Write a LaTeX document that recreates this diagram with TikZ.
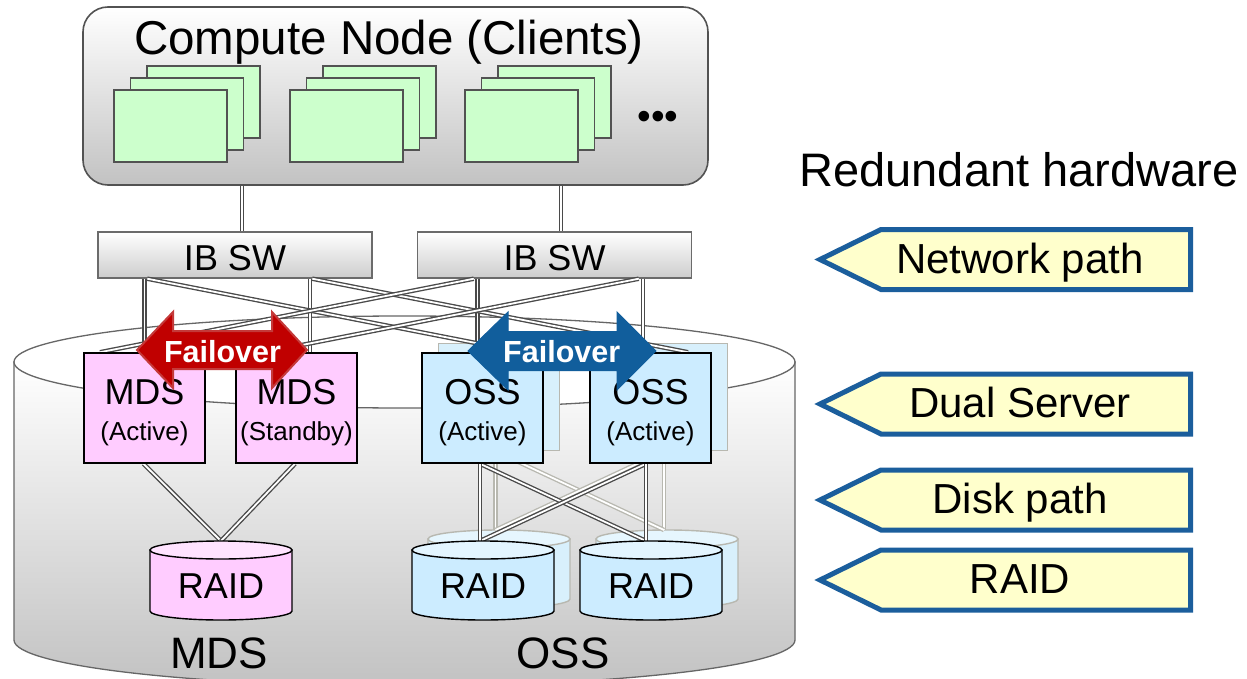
\documentclass[tikz,border=0pt]{standalone}
\usepackage{fontspec}
\setmainfont{Liberation Sans}
\usetikzlibrary{calc}
\newcommand{\fsz}[1]{\fontsize{#1pt}{#1pt}\selectfont}
\newcommand{\cylshape}[7]{%
  \path[#6] (#1-#4,#2) -- (#1-#4,#3) arc[start angle=180,end angle=0,x radius=#4,y radius=#5] -- (#1+#4,#2) -- cycle;
  \path[#7] (#1,#2) ellipse[x radius=#4,y radius=#5];
}
\definecolor{greenfill}{HTML}{CCFFCC}
\definecolor{mdsfill}{HTML}{FFCCFF}
\definecolor{mdstop}{HTML}{FFE3FF}
\definecolor{ossfill}{HTML}{CCECFF}
\definecolor{osstop}{HTML}{E3F5FF}
\definecolor{ghostfill}{HTML}{D8F0FC}
\definecolor{ghosttop}{HTML}{E6F6FE}
\definecolor{ghostline}{HTML}{B8B8B0}
\definecolor{linegray}{HTML}{4A4A4A}
\definecolor{redfill}{HTML}{C00000}
\definecolor{rededge}{HTML}{C43A3A}
\definecolor{bluefill}{HTML}{115E9C}
\definecolor{tagedge}{HTML}{1B5E9C}
\definecolor{tagfill}{HTML}{FFFFCC}
\definecolor{shadegray}{HTML}{C2C2C2}
\definecolor{swgray}{HTML}{CDCDCD}
\definecolor{cylline}{HTML}{666666}
\begin{document}
\begin{tikzpicture}[x=1pt,y=-1pt,
  greenbox/.style={draw=black!68, line width=1.1pt, fill=greenfill, minimum width=113pt, minimum height=72pt, inner sep=0pt},
  dbl/.style={draw=linegray, line width=1.35pt, double=white, double distance=1.8pt},
  ghostdbl/.style={draw=ghostline, line width=1.35pt, double=white, double distance=1.8pt},
  srvbox/.style={draw=black, line width=1.5pt, minimum width=121pt, minimum height=110pt, inner sep=0pt},
  ghostbox/.style={draw=ghostline, line width=1.5pt, fill=ghostfill, minimum width=121pt, minimum height=107pt, inner sep=0pt},
  swbox/.style={draw=black!58, line width=1.4pt, top color=white, bottom color=swgray, minimum width=274pt, minimum height=46pt, inner sep=0pt},
  tag/.style={draw=tagedge, line width=5pt, fill=tagfill, line join=miter},
  lbl/.style={anchor=base, inner sep=0pt},
  cylbodyM/.style={draw=black, line width=1.4pt, fill=mdsfill},
  cyltopM/.style={draw=black, line width=1.4pt, fill=mdstop},
  cylbodyO/.style={draw=black, line width=1.4pt, fill=ossfill},
  cyltopO/.style={draw=black, line width=1.4pt, fill=osstop},
  cylbodyG/.style={draw=ghostline, line width=1.4pt, fill=ghostfill},
  cyltopG/.style={draw=ghostline, line width=1.4pt, fill=ghosttop},
]
\useasboundingbox (0,0) rectangle (1247,679);
\clip (0,0) rectangle (1247,679);
\fill[white] (0,0) rectangle (1247,679);

% big cylinder
\cylshape{404.5}{362}{640}{390.5}{46}{draw=cylline, line width=1.3pt, top color=white, bottom color=shadegray}{draw=cylline, line width=1.3pt, fill=white}
\node[lbl] (lblMDS) at (219,668) {\fsz{44}MDS};
\node[lbl] (lblOSS) at (563,668) {\fsz{44}OSS};

% compute node box
\node[draw=black!68, line width=1.6pt, rounded corners=25pt, minimum width=625pt, minimum height=178pt, top color=white, bottom color=shadegray] (cn) at (395.5,96) {};
\node[lbl] (cntitle) at (389,55) {\fsz{47.5}Compute Node (Clients)};
\foreach \g/\gx in {1/0,2/176,3/351} {
  \foreach \k/\dx/\dy in {3/33/24,2/16.5/12,1/0/0} {
    \node[greenbox] (cb\g\k) at (170.5+\gx+\dx,126-\dy) {};
  }
}
\node[lbl] (dots) at (658,130) {\fsz{39}•••};

% switches
\node[swbox] (swL) at (235,255) {};
\node[swbox] (swR) at (554.5,255) {};
\node[lbl] (swLt) at (235,270) {\fsz{36}IB SW};
\node[lbl] (swRt) at (554.5,270) {\fsz{36}IB SW};
\coordinate (swLtop) at ([xshift=7pt]swL.north);
\coordinate (swRtop) at ([xshift=6.5pt]swR.north);
\draw[dbl] (swLtop |- cn.south) -- (swLtop);
\draw[dbl] (swRtop |- cn.south) -- (swRtop);

% ghost storage (behind)
\cylshape{499}{539}{599}{71}{9}{cylbodyG}{cyltopG}
\cylshape{667}{539}{599}{71}{9}{cylbodyG}{cyltopG}
\node[ghostbox] (g1) at (499,397) {};
\node[ghostbox] (g2) at (667,397) {};
\coordinate (gr1top) at (495.5,530);
\coordinate (gr2top) at (664,530);
\draw[ghostdbl] ([xshift=-3.5pt]g1.south) -- (gr1top);
\draw[ghostdbl] ([xshift=-3pt]g2.south) -- (gr2top);
\draw[ghostdbl] ([xshift=-3.5pt]g1.south) -- (gr2top);
\draw[ghostdbl] ([xshift=-3pt]g2.south) -- (gr1top);

% servers
\node[srvbox, fill=mdsfill] (mdsA) at (144.5,408) {};
\node[srvbox, fill=mdsfill] (mdsS) at (296.5,408) {};
\node[srvbox, fill=ossfill] (oss1) at (482.5,408) {};
\node[srvbox, fill=ossfill] (oss2) at (650.5,408) {};

% disk paths
\coordinate (raidMtop) at (221,541);
\coordinate (raid1top) at (480,541);
\coordinate (raid2top) at (646,541);
\draw[dbl] ([xshift=-1pt]mdsA.south) -- (raidMtop);
\draw[dbl] ([xshift=-1.5pt]mdsS.south) -- (raidMtop);
\draw[dbl] ([xshift=-2.5pt]oss1.south) -- (raid2top);
\draw[dbl] ([xshift=-4.5pt]oss2.south) -- (raid1top);
\draw[dbl] ([xshift=-2.5pt]oss1.south) -- (raid1top);
\draw[dbl] ([xshift=-4.5pt]oss2.south) -- (raid2top);

% RAID cylinders
\cylshape{221}{550}{611}{71}{9}{cylbodyM}{cyltopM}
\cylshape{483}{550}{611}{71}{9}{cylbodyO}{cyltopO}
\cylshape{651}{550}{611}{71}{9}{cylbodyO}{cyltopO}
\node[lbl] (raidM) at (221,598) {\fsz{36}RAID};
\node[lbl] (raid1) at (483,598) {\fsz{36}RAID};
\node[lbl] (raid2) at (651,598) {\fsz{36}RAID};

% network paths
\coordinate (mAin) at (mdsA.north);
\coordinate (mSin) at ([xshift=13.5pt]mdsS.north);
\coordinate (o1in) at ([xshift=-5pt]oss1.north);
\coordinate (o2in) at ([xshift=-7.5pt]oss2.north);
\draw[dbl] (mAin |- swL.south) -- (mAin);
\draw[dbl] (mSin |- swL.south) -- (mSin);
\draw[dbl] (o1in |- swR.south) -- (o1in);
\draw[dbl] (o2in |- swR.south) -- (o2in);
\draw[dbl] ([xshift=50pt]swL.south west) -- ([xshift=40.5pt]oss1.north);
\draw[dbl] ([xshift=215pt]swL.south west) -- ([xshift=37.5pt]oss2.north);
\draw[dbl] ([xshift=222pt]swR.south west) -- ([xshift=-31.5pt]mdsS.north);
\draw[dbl] ([xshift=57pt]swR.south west) -- ([xshift=-44.5pt]mdsA.north);

% redraw server boxes over line ends
\node[srvbox, fill=mdsfill] at (mdsA) {};
\node[srvbox, fill=mdsfill] at (mdsS) {};
\node[srvbox, fill=ossfill] at (oss1) {};
\node[srvbox, fill=ossfill] at (oss2) {};

% server labels
\node[lbl] (mdsAt) at (144.5,404) {\fsz{36}MDS};
\node[lbl] (mdsAs) at (144.5,440) {\fsz{26}(Active)};
\node[lbl] (mdsSt) at (296.5,404) {\fsz{36}MDS};
\node[lbl] (mdsSs) at (296.5,440) {\fsz{26}(Standby)};
\node[lbl] (oss1t) at (482.5,404) {\fsz{36}OSS};
\node[lbl] (oss1s) at (482.5,440) {\fsz{26}(Active)};
\node[lbl] (oss2t) at (650.5,404) {\fsz{36}OSS};
\node[lbl] (oss2s) at (650.5,440) {\fsz{26}(Active)};

% failover arrows
\path[fill=redfill, draw=rededge, line width=2pt, line join=miter] (137,350) -- (173,312) -- (173,331) -- (272,331) -- (272,312) -- (307,350) -- (272,388) -- (272,369) -- (173,369) -- (173,388) -- cycle;
\path[fill=bluefill, draw=bluefill, line width=1pt, line join=miter] (468,351) -- (508,312) -- (508,331.5) -- (617,331.5) -- (617,312) -- (656,351) -- (617,390) -- (617,370.5) -- (508,370.5) -- (508,390) -- cycle;
\node[lbl, text=white] (foRed) at (222.5,362.7) {\fsz{30.5}\bfseries Failover};
\node[lbl, text=white] (foBlue) at (561.7,362.5) {\fsz{30.5}\bfseries Failover};

% right side
\node[lbl] (redund) at (1019,186) {\fsz{47}Redundant hardware};
\foreach \ym/\txt/\nm in {259.5/Network path/tnet,404/Dual Server/tdual,500/Disk path/tdisk,580/RAID/traid} {
  \draw[tag] (820,\ym) -- (881,\ym-30) -- (1190.5,\ym-30) -- (1190.5,\ym+30) -- (881,\ym+30) -- cycle;
  \node[lbl] (\nm) at (1020,\ym+13.5) {\fsz{42}\txt};
}
\end{tikzpicture}
\end{document}
